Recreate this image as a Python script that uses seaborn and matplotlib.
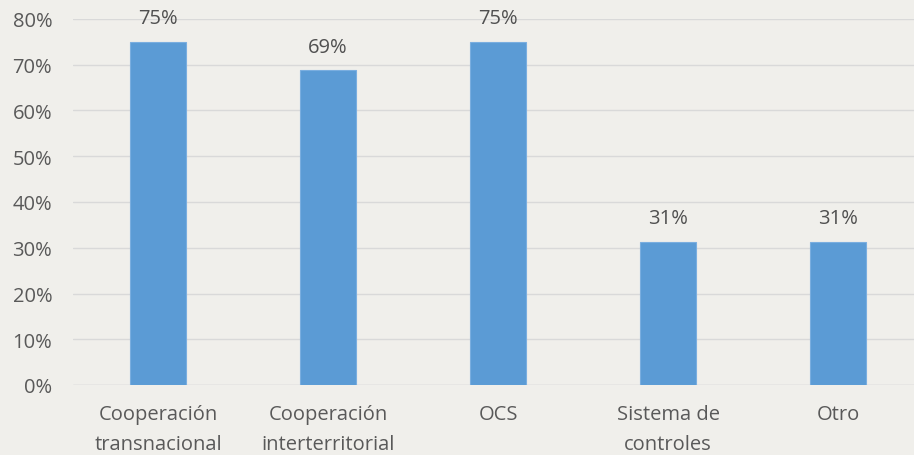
import numpy as np
import pandas as pd
import matplotlib.pyplot as plt
import seaborn as sns

categories = ['Cooperación\ntransnacional', 'Cooperación\ninterterritorial', 'OCS',
              'Sistema de\ncontroles', 'Otro']
values = [0.75, 0.6875, 0.75, 0.3125, 0.3125]

df = pd.DataFrame({'categoria': categories, 'valor': values})

bg = '#f0efeb'
sns.set_style('white')
plt.rcParams['font.family'] = ['Open Sans', 'DejaVu Sans']

fig = plt.figure(figsize=(9.14, 4.56), dpi=100, facecolor=bg)
ax = fig.add_axes([73 / 914, 1 - 386 / 456, 1 - 73 / 914, 366 / 456])
ax.set_facecolor(bg)

sns.barplot(data=df, x='categoria', y='valor', color='#5b9bd5', width=0.335,
            saturation=1, ax=ax, zorder=3, edgecolor='#7aaee0', linewidth=0.8)

ax.set_ylim(0, 0.8)
ax.set_xlim(-0.5, 4.447)
ax.set_yticks(np.arange(0, 0.81, 0.1))
ax.set_yticklabels([f'{int(round(t * 100))}%' for t in np.arange(0, 0.81, 0.1)])
ax.yaxis.grid(True, color='#d9d9d9', linewidth=1, zorder=0)
for s in ax.spines.values():
    s.set_visible(False)
ax.axhline(0, color='#d9d9d9', linewidth=1, zorder=1)

ax.tick_params(axis='both', length=0, labelsize=14.5, colors='#595959')
ax.tick_params(axis='y', pad=15)
ax.tick_params(axis='x', pad=14)
for lbl in ax.get_xticklabels():
    lbl.set_linespacing(1.65)
ax.set_xlabel('')
ax.set_ylabel('')

for i, v in enumerate(values):
    ax.text(i, v + 0.03, f'{round(v * 100):.0f}%', ha='center', va='bottom',
            fontsize=14.5, color='#505050')

fig.savefig('out.png', dpi=100, facecolor=bg)
